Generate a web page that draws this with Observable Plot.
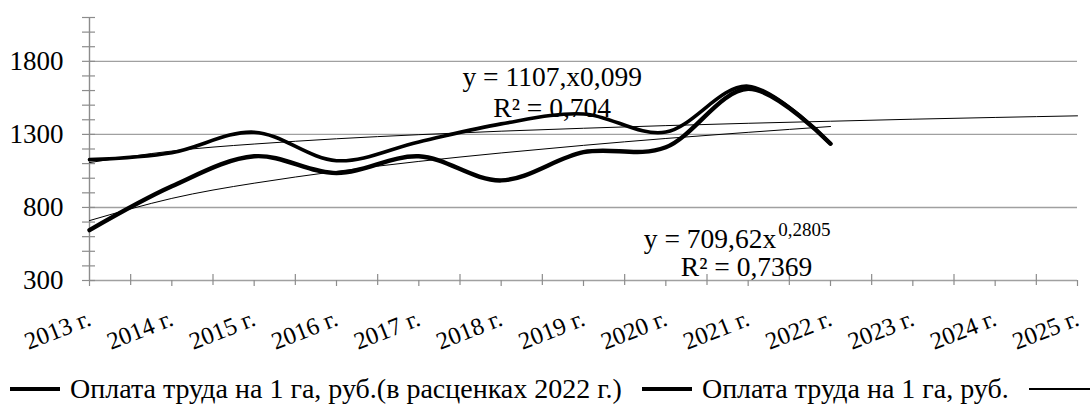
<!DOCTYPE html>
<html>
<head>
<meta charset="utf-8">
<script src="https://cdn.jsdelivr.net/npm/d3@7"></script>
<script src="https://cdn.jsdelivr.net/npm/@observablehq/plot@0.6"></script>
<style>
  html, body { margin: 0; padding: 0; background: #fff; }
  #chart { width: 1090px; height: 418px; overflow: hidden; }
  #legend { height: 58px; display: flex; align-items: center; white-space: nowrap; overflow: hidden; font-size: 28px; color: #000; }
  .item { display: flex; align-items: center; flex: none; }
  .sample { display: inline-block; width: 50px; background: #000; }
</style>
</head>
<body>
<div id="chart"></div>
<script>
// ---- data ----
const years = ["2013 г.", "2014 г.", "2015 г.", "2016 г.", "2017 г.", "2018 г.", "2019 г.",
               "2020 г.", "2021 г.", "2022 г.", "2023 г.", "2024 г.", "2025 г."];
// Оплата труда на 1 га, руб.(в расценках 2022 г.)
const wagesReal = [1127, 1175, 1315, 1120, 1248, 1372, 1440, 1316, 1630, 1236];
// Оплата труда на 1 га, руб.
const wagesNominal = [645, 945, 1150, 1035, 1150, 985, 1178, 1212, 1612, 1236];
// power trend lines as drawn (y = 1107x^0.099 and y = 709.62x^0.2805)
const trendReal = [1107, 1186, 1234, 1270, 1298, 1322, 1342, 1360, 1376, 1390, 1404, 1416, 1427];
const trendNominal = [710, 862, 966, 1047, 1115, 1173, 1225, 1272, 1314, 1354];
const yLabelTicks = [300, 800, 1300, 1800];
const gridValues = [800, 1300, 1800];
const yMinorTicks = d3.range(300, 2101, 100);
const legendLabels = ["Оплата труда на 1 га, руб.(в расценках 2022 г.)", "Оплата труда на 1 га, руб."];
const eqReal = ["y = 1107,x0,099", "R² = 0,704"];
const eqNominal = ["y = 709,62x", "0,2805", "R² = 0,7369"];

const idx = years.map((d, i) => i);
const axisGray = "#8c8c8c";
const gridGray = "#a0a0a0";
const serif = "'Liberation Serif', 'Times New Roman', serif";

const plot = Plot.plot({
  width: 1090,
  height: 360,
  marginLeft: 89,
  marginRight: 13,
  marginTop: 17,
  marginBottom: 80,
  style: { color: "#000", background: "#fff", overflow: "visible" },
  x: { domain: [0, years.length - 1], axis: null },
  y: { domain: [300, 2100], axis: null },
  marks: [
    Plot.ruleY(gridValues, { stroke: gridGray, strokeWidth: 1.4 }),
    Plot.ruleY([300], { stroke: gridGray, strokeWidth: 1.4 }),
    Plot.ruleX([0], { stroke: axisGray, strokeWidth: 1.4 }),
    // y-axis ticks (crossing the axis)
    Plot.axisY({ ticks: yMinorTicks, tickSize: 7, fill: "none", stroke: axisGray, strokeWidth: 1.2, label: null }),
    Plot.axisY({ ticks: yMinorTicks, tickSize: -6, fill: "none", stroke: axisGray, strokeWidth: 1.2, label: null }),
    Plot.axisY({ ticks: yLabelTicks, tickSize: 0, tickPadding: 26, fontSize: 27, tickFormat: d3.format("d"), label: null }),
    // x-axis ticks
    Plot.axisX({ ticks: idx, tickSize: 6, fill: "none", stroke: axisGray, strokeWidth: 1.2, label: null }),
    Plot.axisX({ ticks: d3.range(0.5, years.length - 1, 1), tickSize: 5, fill: "none", stroke: axisGray, strokeWidth: 1.2, label: null }),
    Plot.axisX({ ticks: d3.range(0.5, years.length - 1, 1), tickSize: -6, fill: "none", stroke: axisGray, strokeWidth: 1.2, label: null }),
    // x labels
    Plot.text(years, { x: (d, i) => i, text: d => d, frameAnchor: "bottom", dy: 37, rotate: -21.5,
      textAnchor: "end", lineAnchor: "middle", fontSize: 24.5, fill: "#000" }),
    // trend lines
    Plot.line(trendReal, { x: (d, i) => i, y: d => d, stroke: "#000", strokeWidth: 1, curve: "natural" }),
    Plot.line(trendNominal, { x: (d, i) => i, y: d => d, stroke: "#000", strokeWidth: 1, curve: "natural" }),
    // series
    Plot.line(wagesReal, { x: (d, i) => i, y: d => d, stroke: "#000", strokeWidth: 3.6, curve: "cardinal" }),
    Plot.line(wagesNominal, { x: (d, i) => i, y: d => d, stroke: "#000", strokeWidth: 4.4, curve: "cardinal" }),
    // trend equations
    Plot.text([eqReal[0]], { x: 5.62, y: 1692, text: d => d, fontSize: 27.5, fill: "#000" }),
    Plot.text([eqReal[1]], { x: 5.62, y: 1480, text: d => d, fontSize: 27.5, fill: "#000" }),
    Plot.text([eqNominal[0]], { x: 8.34, y: 585, text: d => d, textAnchor: "end", fontSize: 27.5, fill: "#000" }),
    Plot.text([eqNominal[1]], { x: 8.34, y: 648, text: d => d, textAnchor: "start", dx: 2, fontSize: 19, fill: "#000" }),
    Plot.text([eqNominal[2]], { x: 7.98, y: 391, text: d => d, fontSize: 27.5, fill: "#000" })
  ]
});

plot.querySelectorAll("text, tspan").forEach(t => t.style.setProperty("font-family", serif, "important"));

const chart = document.getElementById("chart");
chart.appendChild(plot);

const legend = document.createElement("div");
legend.id = "legend";
const items = [
  { label: legendLabels[0], w: 3.2, ml: 10, gap: 10 },
  { label: legendLabels[1], w: 4.6, ml: 20, gap: 10 },
  { label: null, w: 1.2, ml: 20, gap: 0 }
];
for (const it of items) {
  const el = document.createElement("div");
  el.className = "item";
  el.style.marginLeft = it.ml + "px";
  const s = document.createElement("span");
  s.className = "sample";
  s.style.height = it.w + "px";
  s.style.marginRight = it.gap + "px";
  el.appendChild(s);
  if (it.label) {
    const t = document.createElement("span");
    t.textContent = it.label;
    t.style.setProperty("font-family", serif, "important");
    el.appendChild(t);
  } else {
    s.style.width = "80px";
  }
  legend.appendChild(el);
}
chart.appendChild(legend);
</script>
</body>
</html>
